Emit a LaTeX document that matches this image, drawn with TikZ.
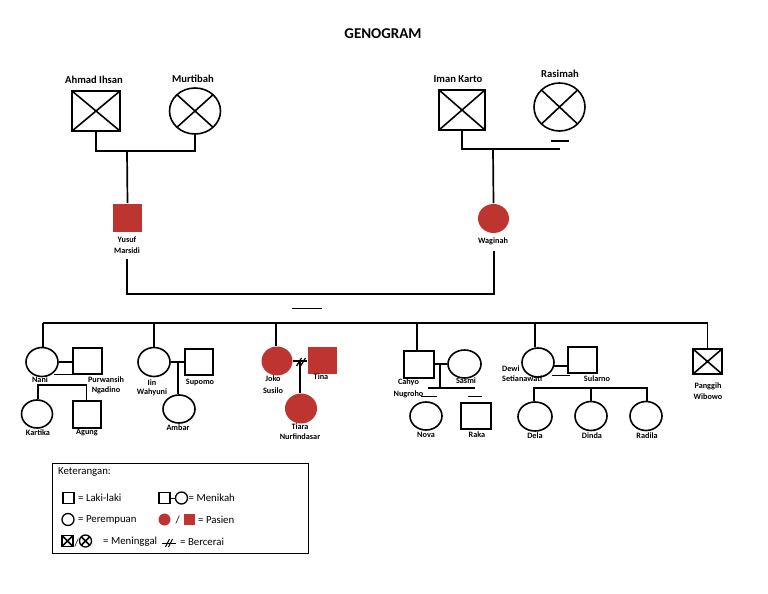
\documentclass[tikz,border=0pt]{standalone}
\usepackage{fontspec}
\setmainfont{Carlito}
\usetikzlibrary{shapes.geometric}
\definecolor{pat}{RGB}{190,52,48}
\begin{document}
\begin{tikzpicture}[x=1pt,y=-1pt,
  thick line/.style={line width=1.7pt},
  thin line/.style={line width=1.1pt},
  male/.style={draw, rectangle, line width=1.6pt, inner sep=0pt, minimum width=29pt, minimum height=27pt},
  female/.style={draw, ellipse, line width=1.6pt, inner sep=0pt, minimum width=32pt, minimum height=29pt},
  dead/.style={path picture={\draw[line width=1.6pt] (path picture bounding box.north west) -- (path picture bounding box.south east) (path picture bounding box.north east) -- (path picture bounding box.south west);}},
  patient/.style={draw=none, fill=pat},
  biglab/.style={font=\bfseries\fontsize{10.6}{12}\selectfont, inner sep=0pt},
  lab/.style={font=\bfseries\fontsize{8.2}{10}\selectfont, inner sep=0pt, align=center},
  legtext/.style={font=\fontsize{10.8}{12}\selectfont, inner sep=0pt, anchor=west},
  smallm/.style={draw, rectangle, line width=1.3pt, inner sep=0pt, minimum width=11pt, minimum height=11pt},
  smallf/.style={draw, ellipse, line width=1.3pt, inner sep=0pt, minimum width=12pt, minimum height=12pt}
]
\useasboundingbox (0,0) rectangle (768,594);

% title
\node[font=\bfseries\fontsize{15}{17}\selectfont] (title) at (383,34) {GENOGRAM};

% grandparents
\node[male,dead,minimum width=48pt,minimum height=40pt] (ahmad) at (96,111) {};
\node[female,dead,minimum width=51pt,minimum height=46pt] (murt) at (195,111) {};
\node[male,dead,minimum width=46pt,minimum height=40pt] (iman) at (462,110) {};
\node[female,dead,minimum width=51pt,minimum height=48pt] (rasi) at (559.5,107) {};
\node[biglab] (lahmad) at (94,80) {Ahmad Ihsan};
\node[biglab] (lmurt) at (193,79) {Murtibah};
\node[biglab] (liman) at (458,79) {Iman Karto};
\node[biglab] (lrasi) at (560,74) {Rasimah};

% parents
\node[male,patient,minimum width=29pt,minimum height=28pt] (yusuf) at (127.5,218) {};
\node[female,patient,minimum width=31pt,minimum height=29pt] (wag) at (493.5,218.5) {};
\node[lab,font=\bfseries\fontsize{8.2}{11}\selectfont] (lyusuf) at (127,245.5) {Yusuf\\Marsidi};
\node[lab] (lwag) at (493,241) {Waginah};

\coordinate (gl) at (127,151);
\draw[thin line] (ahmad.south) |- (gl) -| (murt.south);
\draw[thick line] (gl) -- (yusuf.north);
\coordinate (gr) at (493,149);
\coordinate (rend) at (560,149);
\draw[thin line] (iman.south) |- (gr) -- (rend);
\draw[thick line] (gr) -- (wag.north);
\coordinate (rs1) at (551,141);
\coordinate (rs2) at (569,141);
\draw[thin line] (rs1) -- (rs2);

\coordinate (ys) at (127,259);
\coordinate (cl) at (127,294);
\coordinate (cr) at (494,294);
\coordinate (ws) at (494,251);
\draw[thick line] (ys) -- (cl) -- (cr) -- (ws);
\coordinate (sh1) at (292,308.5);
\coordinate (sh2) at (322,308.5);
\draw[thin line] (sh1) -- (sh2);

% children generation
\node[female] (nani) at (42,362) {};
\node[male,minimum height=26pt] (purw) at (87.5,361) {};
\node[female,minimum width=31pt,minimum height=28pt] (kart) at (37,414) {};
\node[male,minimum width=28pt,minimum height=27pt] (agung) at (87,414.5) {};

\node[female] (iin) at (154,362) {};
\node[male,minimum width=28pt,minimum height=26pt] (supomo) at (199,362) {};
\node[female,minimum height=28pt] (ambar) at (179,409) {};

\node[female,patient,minimum width=31pt,minimum height=29pt] (joko) at (277,361) {};
\node[male,patient,minimum width=29pt,minimum height=27pt] (tina) at (322.5,360.5) {};
\node[female,patient,minimum width=32pt,minimum height=30pt] (tiara) at (301,408.5) {};

\node[male,minimum width=30pt,minimum height=27pt] (cahyo) at (419,364.5) {};
\node[female,minimum width=33pt,minimum height=28pt] (sasmi) at (464.5,364) {};
\node[female,minimum height=28pt] (nova) at (426,416) {};
\node[male,minimum width=30pt,minimum height=26pt] (raka) at (476,416) {};

\node[female] (dewi) at (538,362.5) {};
\node[male,minimum height=26pt] (sularno) at (582.5,360) {};
\node[female,minimum width=34pt] (dela) at (535,416.5) {};
\node[female] (dinda) at (591,416) {};
\node[female] (radila) at (646,416) {};

\node[male,dead,minimum height=25pt] (panggih) at (707.5,361.5) {};

% sibling bar
\coordinate (s0) at (43,323);
\coordinate (s6) at (707.5,323);
\draw[thick line] (s0) -- (s6);
\draw[thin line] (s0) -- (s0 |- nani.north);
\coordinate (s1) at (154,323);
\draw[thick line] (s1) -- (iin.north);
\coordinate (s2) at (276,323);
\draw[thin line] (s2) -- (s2 |- joko.north);
\coordinate (s3) at (417,323);
\draw[thin line] (s3) -- (s3 |- cahyo.north);
\coordinate (s4) at (535,323);
\draw[thin line] (s4) -- (s4 |- dewi.north);
\draw[thick line] (s6) -- (panggih.north);

% Nani family
\draw[thin line] (nani.east) -- (nani.east -| purw.west);
\coordinate (n1) at (54,374.5);
\coordinate (n2) at (73,374.5);
\draw[thin line] (n1) -- (n2);
\coordinate (nk) at (38,385);
\coordinate (na) at (86.5,385);
\draw[thick line] (nk |- kart.north) -- (nk) -- (na) -- (na |- agung.north);

% Iin family
\draw[thin line] (iin.east) -- (iin.east -| supomo.west);
\coordinate (im) at (178,362);
\draw[thin line] (im) -- (im |- ambar.north);

% Joko family
\draw[thin line] (joko.east) -- (joko.east -| tina.west);
\coordinate (jm) at (300,362);
\draw[thick line] (jm) -- (jm |- tiara.north);
\coordinate (d1a) at (296.5,366);
\coordinate (d1b) at (301.5,358);
\coordinate (d2a) at (300.5,366);
\coordinate (d2b) at (305.5,358);
\draw[line width=1.3pt] (d1a) -- (d1b) (d2a) -- (d2b);

% Cahyo family
\coordinate (cm) at (440,364);
\draw[thin line] (cahyo.east |- cm) -- (sasmi.west |- cm);
\coordinate (cb) at (440,388);
\coordinate (cb1) at (428,388);
\coordinate (cb2) at (475,388);
\draw[thin line] (cm) -- (cb);
\draw[thin line] (cb1) -- (cb2);
\coordinate (cn1) at (421,396.5);
\coordinate (cn2) at (437,396.5);
\coordinate (cr1) at (468,396.5);
\coordinate (cr2) at (482,396.5);
\draw[thin line] (cn1) -- (cn2) (cr1) -- (cr2);

% Dewi family
\coordinate (dm) at (554,366);
\draw[thin line] (dm) -- (sularno.west |- dm);
\coordinate (dl1) at (552,375.5);
\coordinate (dl2) at (570,375.5);
\draw[thin line] (dl1) -- (dl2);
\coordinate (db1) at (534,388);
\coordinate (db2) at (591,388);
\coordinate (db3) at (647,388);
\draw[thick line] (db1 |- dela.north) -- (db1) -- (db3) -- (db3 |- radila.north);
\draw[thick line] (db2) -- (db2 |- dinda.north);

% labels, children generation
\node[lab] (lnani) at (40,380) {Nani};
\node[lab,font=\bfseries\fontsize{8.2}{10}\selectfont] (lpurw) at (106,385) {Purwansih\\Ngadino};
\node[lab] (lkart) at (38,433) {Kartika};
\node[lab] (lagung) at (87,433) {Agung};
\node[lab,font=\bfseries\fontsize{8.2}{9}\selectfont] (liin) at (152,387.5) {Iin\\Wahyuni};
\node[lab] (lsupomo) at (200,382) {Supomo};
\node[lab] (lambar) at (178,428) {Ambar};
\node[lab,font=\bfseries\fontsize{8.2}{12}\selectfont] (ljoko) at (273,385) {Joko\\Susilo};
\node[lab] (ltina) at (321,377) {Tina};
\node[lab,font=\bfseries\fontsize{8.2}{9.5}\selectfont] (ltiara) at (300,431.5) {Tiara\\Nurfindasar};
\node[lab,font=\bfseries\fontsize{8.2}{12}\selectfont] (lcahyo) at (408.5,388) {Cahyo\\Nugroho};
\node[lab] (lsasmi) at (466,381) {Sasmi};
\node[lab] (lnova) at (426,435) {Nova};
\node[lab] (lraka) at (477,435) {Raka};
\node[lab,align=left,anchor=west,font=\bfseries\fontsize{8.2}{10}\selectfont] (ldewi) at (502,374) {Dewi\\Setianawati};
\node[lab] (lsularno) at (597,379) {Sularno};
\node[lab] (ldela) at (535,436) {Dela};
\node[lab] (ldinda) at (592,436) {Dinda};
\node[lab] (lradila) at (647,436) {Radila};
\node[lab,font=\bfseries\fontsize{8.2}{11}\selectfont] (lpang) at (708,391.5) {Panggih\\Wibowo};

% legend
\node[draw, line width=1pt, inner sep=0pt, minimum width=256pt, minimum height=90pt, anchor=north west] (leg) at (52,463) {};
\node[legtext] (ket) at (58,472) {Keterangan:};
\node[smallm] (lg1) at (68.5,498) {};
\node[legtext] (tg1) at (78,498) {= Laki-laki};
\node[smallm] (lg2) at (164.5,498) {};
\node[smallf] (lg3) at (181.5,498) {};
\draw[line width=1pt] (lg2) -- (lg3);
\node[legtext] (tg2) at (188.5,498) {= Menikah};
\node[smallf] (lg4) at (68,519.5) {};
\node[legtext] (tg4) at (78,519.5) {= Perempuan};
\node[smallf,patient] (lg5) at (164.5,519.5) {};
\node[legtext] (sl1) at (175.5,519.5) {/};
\node[smallm,patient] (lg6) at (189.5,519.5) {};
\node[legtext] (tg5) at (198,519.5) {= Pasien};
\node[smallm,dead] (lg7) at (67.5,541) {};
\node[legtext] (sl2) at (74.5,542.5) {/};
\node[smallf,dead] (lg8) at (85.5,541) {};
\node[legtext] (tg7) at (103,542) {= Meninggal};
\coordinate (bc1) at (162,543);
\coordinate (bc2) at (176,543);
\draw[line width=1pt] (bc1) -- (bc2);
\coordinate (bm1) at (165.5,547);
\coordinate (bm2) at (169.5,539);
\coordinate (bm3) at (168.5,547);
\coordinate (bm4) at (172.5,539);
\draw[line width=1pt] (bm1) -- (bm2) (bm3) -- (bm4);
\node[legtext] (tg8) at (180,542) {= Bercerai};
\end{tikzpicture}
\end{document}
